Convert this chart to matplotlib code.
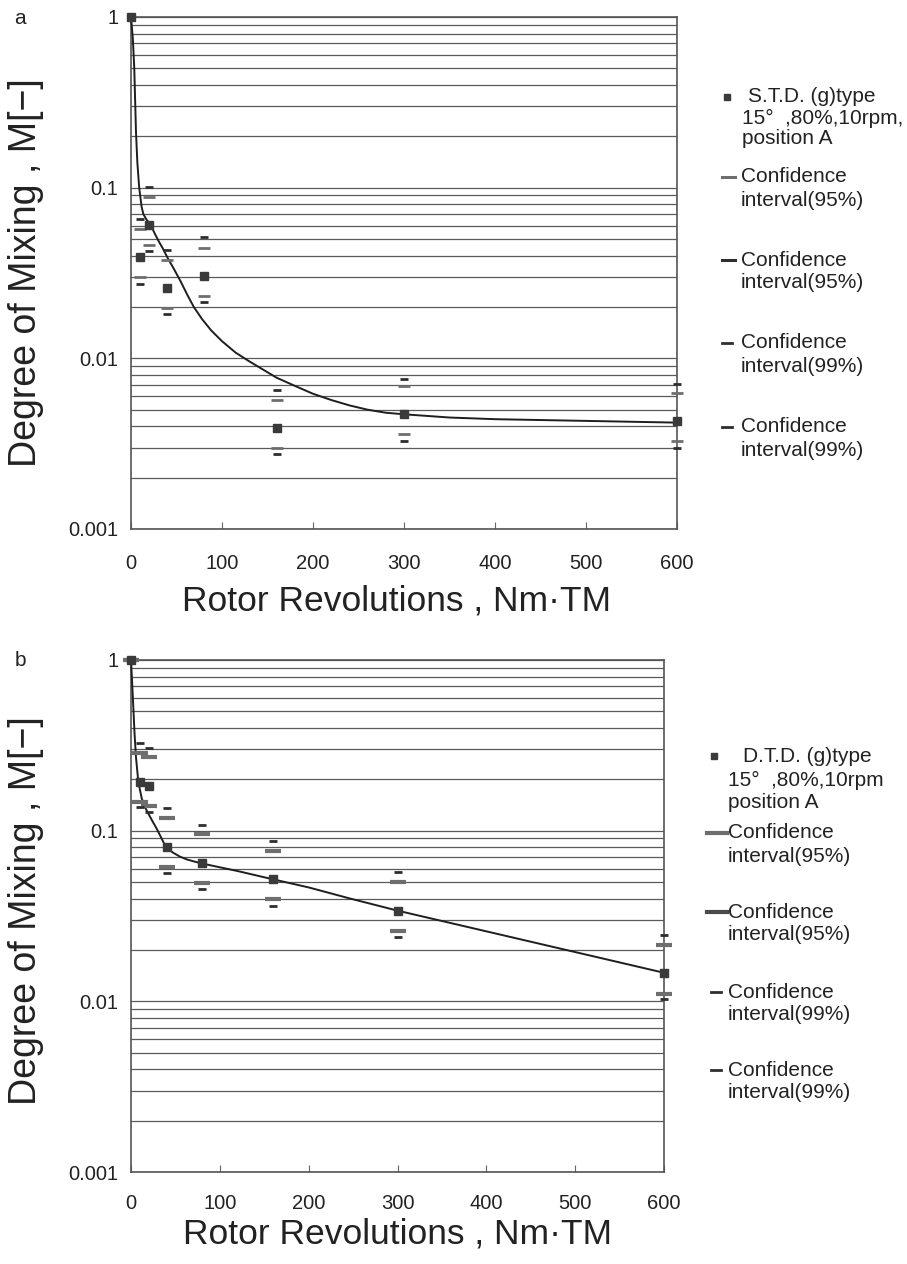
import numpy as np
import matplotlib.pyplot as plt
from matplotlib.lines import Line2D
from matplotlib.ticker import FixedLocator, FixedFormatter, NullFormatter

plt.rcParams['font.family'] = ['Liberation Sans', 'DejaVu Sans']

# ---- panel a : S.T.D. ----
a_x = [0, 10, 20, 40, 80, 160, 300, 600]
a_m = [1.0, 0.039, 0.0605, 0.026, 0.0305, 0.0039, 0.0047, 0.0043]
a_up95 = [np.nan, 0.057, 0.0886, 0.0379, 0.0444, 0.0057, 0.0069, 0.0063]
a_up99 = [np.nan, 0.0656, 0.101, 0.0432, 0.0512, 0.0065, 0.0076, 0.0071]
a_lo95 = [np.nan, 0.0299, 0.0462, 0.0198, 0.0233, 0.0030, 0.0036, 0.0033]
a_lo99 = [np.nan, 0.0273, 0.0428, 0.0183, 0.0213, 0.00275, 0.0033, 0.0030]
# fitted curve
a_fit_x = [0, 2, 3.6, 5.5, 7, 9, 11.7, 13.6, 17, 21.6, 26, 30, 35, 40, 47, 54, 62,
           69, 78, 88, 100, 115, 130, 145, 160, 180, 200, 220, 240, 260, 280, 300,
           350, 400, 500, 600]
a_fit_m = [1.0, 0.75, 0.5, 0.21, 0.14, 0.1, 0.077, 0.07, 0.065, 0.0605, 0.054, 0.049,
           0.044, 0.039, 0.0335, 0.0286, 0.0235, 0.020, 0.017, 0.0146, 0.0126,
           0.0108, 0.0096, 0.0086, 0.0077, 0.0069, 0.0062, 0.0057, 0.0053, 0.0050,
           0.0048, 0.0047, 0.0045, 0.0044, 0.0043, 0.0042]

# ---- panel b : D.T.D. ----
b_x = [0, 10, 20, 40, 80, 160, 300, 600]
b_m = [1.0, 0.194, 0.183, 0.0798, 0.0643, 0.052, 0.034, 0.0147]
b_up95 = [1.0, 0.284, 0.269, 0.118, 0.095, 0.0763, 0.0498, 0.0214]
b_up99 = [1.0, 0.325, 0.306, 0.135, 0.108, 0.0869, 0.057, 0.0245]
b_lo95 = [1.0, 0.148, 0.140, 0.0615, 0.0495, 0.0397, 0.0259, 0.0111]
b_lo99 = [1.0, 0.137, 0.129, 0.0567, 0.0455, 0.0363, 0.0239, 0.0103]
b_fit_x = [0, 1.2, 2.6, 4, 5.6, 8.2, 12, 15.5, 19.5, 24, 28.8, 34, 39.3, 47, 55,
           63, 71, 79.4, 120, 159, 200, 246, 300, 600]
b_fit_m = [1.0, 0.75, 0.53, 0.37, 0.27, 0.194, 0.155, 0.138, 0.126, 0.114, 0.103,
           0.091, 0.08, 0.0745, 0.0705, 0.0678, 0.066, 0.0643, 0.058, 0.052, 0.0465,
           0.0401, 0.034, 0.0147]

y_ticks = [0.001, 0.01, 0.1, 1]
y_labels = ['0.001', '0.01', '0.1', '1']
x_ticks = [0, 100, 200, 300, 400, 500, 600]

W, H = 907, 1264
TXT = '#222222'


def px(x, y):
    return x / W, 1 - y / H


def dibujar_panel(ax, x, m, up95, up99, lo95, lo99, fit_x, fit_m, w95, w99, lw95, xpad):
    ax.set_yscale('log')
    ax.set_xlim(0, 600)
    ax.set_ylim(0.001, 1)
    ax.yaxis.set_major_locator(FixedLocator(y_ticks))
    ax.yaxis.set_major_formatter(FixedFormatter(y_labels))
    ax.yaxis.set_minor_formatter(NullFormatter())
    ax.set_xticks(x_ticks)
    ax.grid(True, which='both', axis='y', color='#5a5a5a', lw=0.9)
    ax.tick_params(axis='y', which='both', length=0, pad=9, labelsize=14.5, labelcolor=TXT)
    ax.tick_params(axis='x', direction='in', length=5, color='#666666', pad=xpad,
                   labelsize=14.5, labelcolor=TXT)
    for s in ax.spines.values():
        s.set_color('#555555')
        s.set_linewidth(1.2)

    ax.plot(fit_x, fit_m, color='#1e1e1e', lw=1.4, clip_on=False, zorder=3)
    ax.plot(x, up95, ls='none', marker='_', ms=w95, mew=lw95, color='#6e6e6e', clip_on=False, zorder=4)
    ax.plot(x, lo95, ls='none', marker='_', ms=w95, mew=lw95, color='#6e6e6e', clip_on=False, zorder=4)
    ax.plot(x, up99, ls='none', marker='_', ms=w99, mew=2, color='#2e2e2e', clip_on=False, zorder=4)
    ax.plot(x, lo99, ls='none', marker='_', ms=w99, mew=2, color='#2e2e2e', clip_on=False, zorder=4)
    ax.plot(x, m, ls='none', marker='s', ms=6, color='#3a3a3a', clip_on=False, zorder=5)

    ax.set_ylabel('Degree of Mixing , M[\u2212]', fontsize=27, color=TXT)
    ax.set_xlabel('Rotor Revolutions , Nm\u00b7TM', fontsize=25.5, color=TXT)


fig = plt.figure(figsize=(9.07, 12.64), dpi=100)

ax_a = fig.add_axes([131 / W, 1 - 529 / H, (677 - 131) / W, (529 - 17) / H])
dibujar_panel(ax_a, a_x, a_m, a_up95, a_up99, a_lo95, a_lo99, a_fit_x, a_fit_m, 8, 6, 2, 18)
ax_a.yaxis.set_label_coords(-0.16, 0.5)
ax_a.xaxis.set_label_coords(0.487, -0.108)

ax_b = fig.add_axes([131 / W, 1 - 1172 / H, (664 - 131) / W, (1172 - 660) / H])
dibujar_panel(ax_b, b_x, b_m, b_up95, b_up99, b_lo95, b_lo99, b_fit_x, b_fit_m, 12, 6, 3, 16)
ax_b.yaxis.set_label_coords(-0.164, 0.51)
ax_b.xaxis.set_label_coords(0.5, -0.088)

fig.text(*px(20, 18), 'a', fontsize=15, color=TXT, ha='center', va='center')
fig.text(*px(20, 660), 'b', fontsize=15, color=TXT, ha='center', va='center')


def texto(x, y, s):
    fig.text(*px(x, y), s, fontsize=15, color=TXT, ha='left', va='center')


def guion(x0, x1, y, color, lw):
    fig.add_artist(Line2D([x0 / W, x1 / W], [1 - y / H, 1 - y / H],
                          transform=fig.transFigure, color=color, lw=lw))


def cuadro(x, y):
    fig.add_artist(Line2D([x / W], [1 - y / H], transform=fig.transFigure,
                          marker='s', ms=5, ls='none', color='#3a3a3a'))


# legend a
cuadro(727, 97)
texto(748, 97, 'S.T.D. (g)type')
texto(742, 118, '15\u00b0  ,80%,10rpm,')
texto(742, 139, 'position A')
for y0, col, x1, lw, pct in [(177, '#6e6e6e', 735, 2.2, '95'), (260, '#2e2e2e', 735, 2.2, '95'),
                             (343, '#2e2e2e', 732, 2, '99'), (427, '#2e2e2e', 732, 2, '99')]:
    guion(722, x1, y0, col, lw)
    texto(741, y0, 'Confidence')
    texto(741, y0 + 23, 'interval(%s%%)' % pct)

# legend b
cuadro(714, 756)
texto(743, 756, 'D.T.D. (g)type')
texto(728, 780, '15\u00b0  ,80%,10rpm')
texto(728, 803, 'position A')
for y0, col, x0, x1, lw, pct in [(833, '#6e6e6e', 707, 727, 3, '95'), (912, '#4a4a4a', 707, 727, 3, '95'),
                                 (992, '#2e2e2e', 711, 721, 2, '99'), (1070, '#2e2e2e', 711, 721, 2, '99')]:
    guion(x0, x1, y0, col, lw)
    texto(728, y0, 'Confidence')
    texto(728, y0 + 23, 'interval(%s%%)' % pct)

fig.savefig('out.png', dpi=100)
